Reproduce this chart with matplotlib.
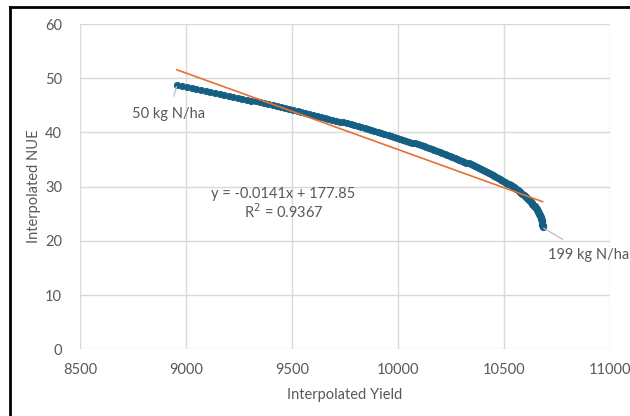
import matplotlib
matplotlib.use("Agg")
import matplotlib.pyplot as plt
from matplotlib.lines import Line2D

# ---- data ----
nitrogen = list(range(50, 200))  # kg N/ha, 50..199

yield_vals = [
    8957, 8980, 9003, 9026, 9048, 9071, 9093, 9115, 9137, 9159,
    9181, 9202, 9224, 9245, 9266, 9287, 9308, 9328, 9349, 9369,
    9389, 9409, 9429, 9448, 9468, 9487, 9507, 9526, 9544, 9563,
    9582, 9600, 9618, 9637, 9654, 9672, 9690, 9707, 9725, 9742,
    9759, 9776, 9792, 9809, 9825, 9842, 9858, 9874, 9889, 9905,
    9920, 9936, 9951, 9966, 9981, 9995, 10010, 10024, 10039, 10053,
    10066, 10080, 10094, 10107, 10121, 10134, 10147, 10160, 10172, 10185,
    10197, 10209, 10221, 10233, 10245, 10257, 10268, 10279, 10290, 10301,
    10312, 10323, 10333, 10344, 10354, 10364, 10374, 10383, 10393, 10402,
    10412, 10421, 10430, 10438, 10447, 10455, 10464, 10472, 10480, 10488,
    10495, 10503, 10510, 10518, 10525, 10532, 10538, 10545, 10551, 10558,
    10564, 10570, 10576, 10581, 10587, 10592, 10597, 10602, 10607, 10612,
    10617, 10621, 10625, 10630, 10633, 10637, 10641, 10644, 10648, 10651,
    10654, 10657, 10659, 10662, 10664, 10667, 10669, 10671, 10673, 10674,
    10676, 10677, 10678, 10679, 10680, 10681, 10681, 10682, 10682, 10682,
]

nue_vals = [
    48.70, 48.52, 48.35, 48.17, 48.00, 47.82, 47.64, 47.47, 47.29, 47.12,
    46.94, 46.76, 46.59, 46.41, 46.24, 46.06, 45.88, 45.71, 45.53, 45.36,
    45.18, 45.00, 44.83, 44.65, 44.48, 44.30, 44.12, 43.95, 43.77, 43.60,
    43.42, 43.24, 43.07, 42.89, 42.72, 42.54, 42.36, 42.19, 42.01, 41.84,
    41.66, 41.48, 41.31, 41.13, 40.96, 40.78, 40.60, 40.43, 40.25, 40.08,
    39.90, 39.72, 39.55, 39.37, 39.20, 39.02, 38.84, 38.67, 38.49, 38.32,
    38.14, 37.96, 37.79, 37.61, 37.44, 37.26, 37.08, 36.91, 36.73, 36.56,
    36.38, 36.20, 36.03, 35.85, 35.68, 35.50, 35.32, 35.15, 34.97, 34.80,
    34.62, 34.44, 34.27, 34.09, 33.92, 33.74, 33.56, 33.39, 33.21, 33.04,
    32.86, 32.68, 32.51, 32.33, 32.16, 31.98, 31.80, 31.63, 31.45, 31.28,
    31.10, 30.92, 30.75, 30.57, 30.40, 30.22, 30.04, 29.87, 29.69, 29.52,
    29.34, 29.16, 28.99, 28.81, 28.64, 28.46, 28.28, 28.11, 27.93, 27.76,
    27.58, 27.40, 27.23, 27.05, 26.88, 26.70, 26.52, 26.35, 26.17, 26.00,
    25.82, 25.64, 25.47, 25.29, 25.12, 24.94, 24.76, 24.59, 24.41, 24.24,
    24.06, 23.88, 23.71, 23.53, 23.36, 23.18, 23.00, 22.83, 22.65, 22.48,
]

trend_slope = -0.0141
trend_intercept = 177.85
trend_label = "y = -0.0141x + 177.85"
r2_label = "R$^2$ = 0.9367"

x_ticks = [8500, 9000, 9500, 10000, 10500, 11000]
y_ticks = [0, 10, 20, 30, 40, 50, 60]
x_title = "Interpolated Yield"
y_title = "Interpolated NUE"
start_label = "50 kg N/ha"
end_label = "199 kg N/ha"

# ---- styling ----
BLUE = "#156082"
ORANGE = "#E97132"
TEXT = "#595959"
GRID = "#D9D9D9"
FONT = "Lato"

plt.rcParams["font.family"] = [FONT, "DejaVu Sans"]

fig = plt.figure(figsize=(6.3, 4.16), dpi=100)
ax = fig.add_axes([80 / 630, 1 - 349.3 / 416, 530 / 630, (349.3 - 24) / 416])

ax.set_xlim(x_ticks[0], x_ticks[-1])
ax.set_ylim(y_ticks[0], y_ticks[-1])
ax.set_xticks(x_ticks)
ax.set_yticks(y_ticks)
ax.grid(True, color=GRID, linewidth=1.0)
ax.set_axisbelow(True)
for s in ax.spines.values():
    s.set_visible(False)
ax.tick_params(length=0, labelsize=10.5, labelcolor=TEXT)
ax.tick_params(axis="x", pad=10)
ax.tick_params(axis="y", pad=13)

ax.plot(yield_vals, nue_vals, linestyle="none", marker="o", markersize=4.6,
        markerfacecolor=BLUE, markeredgecolor=BLUE, markeredgewidth=0.6, zorder=3)

tx = [min(yield_vals), max(yield_vals)]
ty = [trend_slope * v + trend_intercept for v in tx]
ax.plot(tx, ty, color=ORANGE, linewidth=1.2, zorder=4)

ax.text(9460, 28.7, trend_label, ha="center", va="center", fontsize=10.5, color=TEXT)
ax.text(9460, 25.3, r2_label, ha="center", va="center", fontsize=10.5, color=TEXT)

# data labels with leader lines
ax.annotate(start_label, xy=(yield_vals[0], nue_vals[0]), xytext=(8918, 43.4),
            ha="center", va="center", fontsize=10.5, color=TEXT,
            arrowprops=dict(arrowstyle="-", color="#BFBFBF", lw=0.9, shrinkA=6, shrinkB=1))
ax.annotate(end_label, xy=(yield_vals[-1], nue_vals[-1]), xytext=(10898, 17.4),
            ha="center", va="center", fontsize=10.5, color=TEXT,
            arrowprops=dict(arrowstyle="-", color="#BFBFBF", lw=0.9, shrinkA=8, shrinkB=1))

ax.set_xlabel(x_title, fontsize=10.5, color=TEXT, labelpad=8)
ax.set_ylabel(y_title, fontsize=10.5, color=TEXT, labelpad=3)

# outer black frame (left and top edges visible in the crop)
fig.add_artist(Line2D([10 / 630, 10 / 630], [0, 1 - 7 / 416], transform=fig.transFigure,
                      color="black", linewidth=2))
fig.add_artist(Line2D([10 / 630, 1], [1 - 7 / 416, 1 - 7 / 416], transform=fig.transFigure,
                      color="black", linewidth=2))

fig.savefig("out.png", dpi=100, facecolor="white")
